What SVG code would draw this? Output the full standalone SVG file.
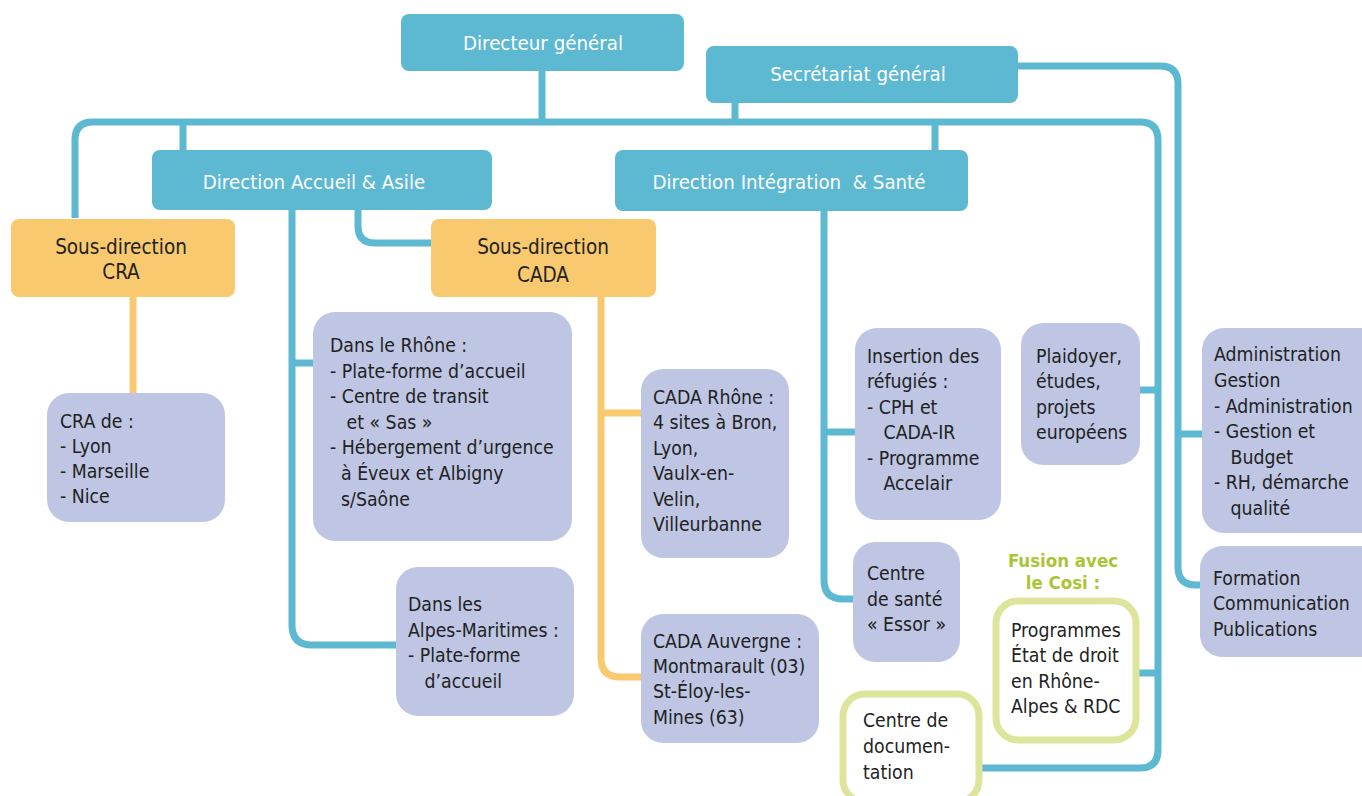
<svg xmlns="http://www.w3.org/2000/svg" width="1362" height="796" viewBox="0 0 1362 796">
<style>
.bg{fill:#ffffff}
.hd{fill:#5DB8D2}
.or{fill:#F8C96E}
.lv{fill:#BEC6E4}
.gb{fill:#ffffff;stroke:#DDE59C;stroke-width:7}
.cb{fill:none;stroke:#5DB8D2;stroke-width:7}
.co{fill:none;stroke:#F8C96E;stroke-width:7}
text{font-family:"DejaVu Sans Condensed","Roboto","Liberation Sans",sans-serif;font-size:19.3px;fill:#222222}
.w{fill:#ffffff;text-anchor:middle;font-size:20.3px}
.c{text-anchor:middle;font-size:20.5px}
.g{fill:#A8C634;font-weight:bold;text-anchor:middle;font-size:18.5px}
</style>
<rect class="bg" x="0" y="0" width="1362" height="796"/>
<g id="connectors">
<path class="cb" d="M542,71 V122"/>
<path class="cb" d="M75,218 V140 Q75,122 93,122 H1140 Q1158,122 1158,140 V750 Q1158,768 1140,768 H979"/>
<path class="cb" d="M183,122 V150"/>
<path class="cb" d="M735,103 V122"/>
<path class="cb" d="M935,122 V150"/>
<path class="cb" d="M1018,66 H1160 Q1178,66 1178,84 V567 Q1178,585 1196,585 H1202"/>
<path class="cb" d="M1178,434 H1202"/>
<path class="cb" d="M1140,390 H1158"/>
<path class="cb" d="M1136,673 H1158"/>
<path class="cb" d="M292,210 V625 Q292,645 312,645 H396"/>
<path class="cb" d="M292,363 H313"/>
<path class="cb" d="M358,210 V226 Q358,243 375,243 H431"/>
<path class="cb" d="M824,211 V580 Q824,599 843,599 H853"/>
<path class="cb" d="M824,432 H855"/>
<path class="co" d="M133,297 V393"/>
<path class="co" d="M601,297 V658 Q601,677 620,677 H641"/>
<path class="co" d="M601,413 H641"/>
</g>
<g id="directeur">
<rect class="hd" x="401" y="14" width="283" height="57" rx="8"/>
<text class="w" x="543" y="50">Directeur général</text>
</g>
<g id="secretariat">
<rect class="hd" x="706" y="46" width="312" height="57" rx="8"/>
<text class="w" x="858" y="81">Secrétariat général</text>
</g>
<g id="dir-accueil">
<rect class="hd" x="152" y="150" width="340" height="60" rx="8"/>
<text class="w" x="314" y="189">Direction Accueil &amp; Asile</text>
</g>
<g id="dir-integration">
<rect class="hd" x="615" y="150" width="353" height="61" rx="8"/>
<text class="w" x="789" y="189" xml:space="preserve">Direction Intégration  &amp; Santé</text>
</g>
<g id="sd-cra">
<rect class="or" x="11" y="219" width="224" height="78" rx="8"/>
<text class="c" x="121" y="254">Sous-direction</text>
<text class="c" x="121" y="279">CRA</text>
</g>
<g id="sd-cada">
<rect class="or" x="431" y="219" width="225" height="78" rx="8"/>
<text class="c" x="543" y="254">Sous-direction</text>
<text class="c" x="543" y="282">CADA</text>
</g>
<g id="cra-de">
<rect class="lv" x="47" y="393" width="178" height="129" rx="22"/>
<text x="60" y="428">CRA de :</text>
<text x="60" y="453">- Lyon</text>
<text x="60" y="478">- Marseille</text>
<text x="60" y="503">- Nice</text>
</g>
<g id="rhone">
<rect class="lv" x="313" y="312" width="259" height="229" rx="22"/>
<text x="330" y="352">Dans le Rhône :</text>
<text x="330" y="378">- Plate-forme d’accueil</text>
<text x="330" y="403">- Centre de transit</text>
<text x="330" y="429" xml:space="preserve">   et « Sas »</text>
<text x="330" y="454">- Hébergement d’urgence</text>
<text x="330" y="480" xml:space="preserve">  à Éveux et Albigny</text>
<text x="330" y="506" xml:space="preserve">  s/Saône</text>
</g>
<g id="alpes">
<rect class="lv" x="396" y="567" width="178" height="149" rx="22"/>
<text x="408" y="611">Dans les</text>
<text x="408" y="637">Alpes-Maritimes :</text>
<text x="408" y="662">- Plate-forme</text>
<text x="408" y="688" xml:space="preserve">   d’accueil</text>
</g>
<g id="cada-rhone">
<rect class="lv" x="641" y="369" width="148" height="189" rx="22"/>
<text x="653" y="404">CADA Rhône :</text>
<text x="653" y="429">4 sites à Bron,</text>
<text x="653" y="455">Lyon,</text>
<text x="653" y="480">Vaulx-en-</text>
<text x="653" y="506">Velin,</text>
<text x="653" y="531">Villeurbanne</text>
</g>
<g id="cada-auvergne">
<rect class="lv" x="641" y="614" width="178" height="129" rx="22"/>
<text x="653" y="648">CADA Auvergne :</text>
<text x="653" y="673">Montmarault (03)</text>
<text x="653" y="698">St-Éloy-les-</text>
<text x="653" y="724">Mines (63)</text>
</g>
<g id="insertion">
<rect class="lv" x="855" y="328" width="146" height="192" rx="22"/>
<text x="867" y="363">Insertion des</text>
<text x="867" y="388">réfugiés :</text>
<text x="867" y="414">- CPH et</text>
<text x="867" y="439" xml:space="preserve">   CADA-IR</text>
<text x="867" y="465">- Programme</text>
<text x="867" y="490" xml:space="preserve">   Accelair</text>
</g>
<g id="sante">
<rect class="lv" x="853" y="542" width="107" height="120" rx="22"/>
<text x="867" y="580">Centre</text>
<text x="867" y="606">de santé</text>
<text x="867" y="631">« Essor »</text>
</g>
<g id="plaidoyer">
<rect class="lv" x="1021" y="323" width="119" height="142" rx="22"/>
<text x="1036" y="363">Plaidoyer,</text>
<text x="1036" y="388">études,</text>
<text x="1036" y="414">projets</text>
<text x="1036" y="439">européens</text>
</g>
<g id="administration">
<rect class="lv" x="1202" y="328" width="180" height="205" rx="22"/>
<text x="1214" y="361">Administration</text>
<text x="1214" y="387">Gestion</text>
<text x="1214" y="413">- Administration</text>
<text x="1214" y="438">- Gestion et</text>
<text x="1214" y="464" xml:space="preserve">   Budget</text>
<text x="1214" y="489">- RH, démarche</text>
<text x="1214" y="515" xml:space="preserve">   qualité</text>
</g>
<g id="formation">
<rect class="lv" x="1200" y="546" width="182" height="111" rx="22"/>
<text x="1213" y="585">Formation</text>
<text x="1213" y="610">Communication</text>
<text x="1213" y="636">Publications</text>
</g>
<g id="fusion-label">
<text class="g" x="1063" y="567">Fusion avec</text>
<text class="g" x="1063" y="589">le Cosi :</text>
</g>
<g id="programmes">
<rect class="gb" x="996" y="601" width="140" height="139" rx="22"/>
<text x="1011" y="637">Programmes</text>
<text x="1011" y="662">État de droit</text>
<text x="1011" y="688">en Rhône-</text>
<text x="1011" y="713">Alpes &amp; RDC</text>
</g>
<g id="documentation">
<rect class="gb" x="843" y="694" width="136" height="108" rx="22"/>
<text x="863" y="727">Centre de</text>
<text x="863" y="753">documen-</text>
<text x="863" y="779">tation</text>
</g>
</svg>
